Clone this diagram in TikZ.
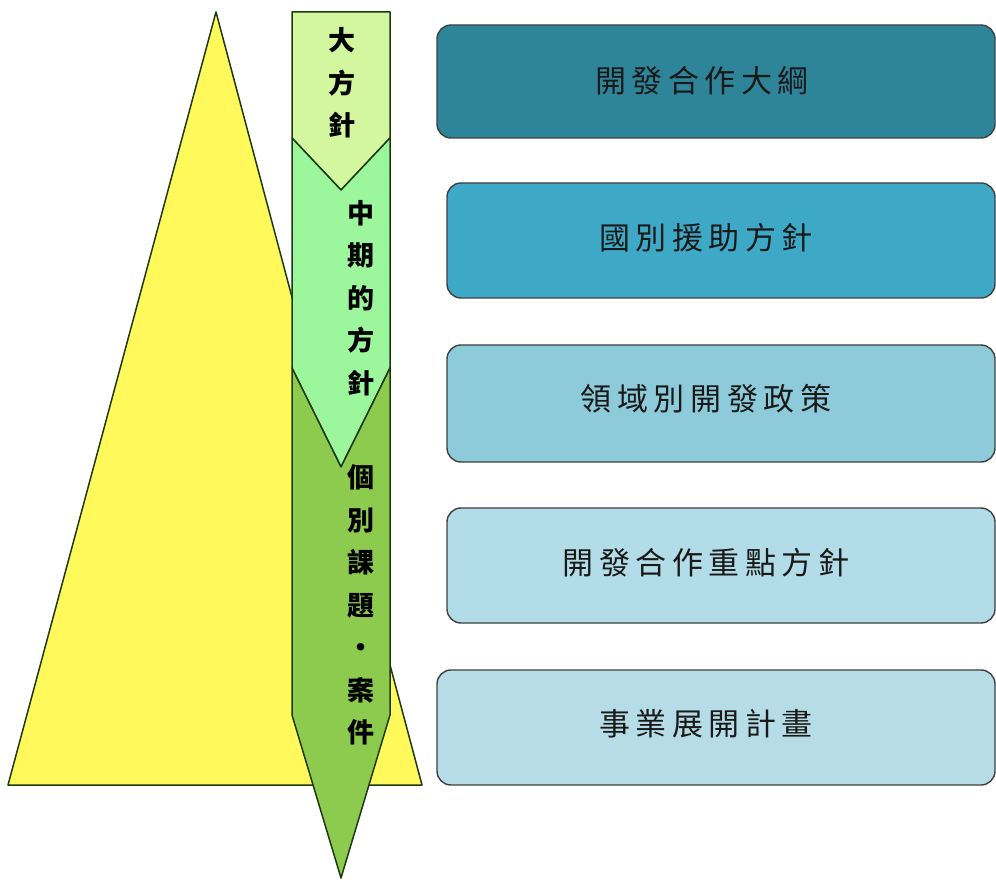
\documentclass[tikz,border=0pt]{standalone}
\usepackage{fontspec}
\newfontfamily\cjk{Noto Sans CJK TC}
\newfontfamily\cjkwide[LetterSpace=18]{Noto Sans CJK TC}
\definecolor{pyr}{HTML}{FFF95C}
\definecolor{s1}{HTML}{D2F79E}
\definecolor{s2}{HTML}{9CF79C}
\definecolor{s3}{HTML}{8CCB4E}
\definecolor{edge}{HTML}{1E3A14}
\definecolor{b1}{HTML}{2E8599}
\definecolor{b2}{HTML}{3EA9C6}
\definecolor{b3}{HTML}{8DCBDA}
\definecolor{b4}{HTML}{B2DCE7}
\definecolor{b5}{HTML}{B6DCE7}
\begin{document}
\begin{tikzpicture}[x=1pt,y=-1pt,
  outl/.style={draw=edge, line width=1.5pt, line join=round},
  box/.style={draw=black!75, line width=1.4pt, rounded corners=14pt},
  boxtext/.style={font=\cjkwide\fontsize{31}{36}\selectfont, text=black!90},
  coltext/.style={font=\cjk\bfseries\fontsize{27}{42.5}\selectfont, align=center, text=black, inner sep=0pt}]
\useasboundingbox (0,0) rectangle (996,882);
\fill[white] (0,0) rectangle (996,882);
% pyramid
\filldraw[fill=pyr, outl] (216,12) -- (422,785) -- (8,785) -- cycle;
% column segments
\filldraw[fill=s1, outl]
  (292,12) -- (390,12) -- (390,138) -- (341,190) -- (292,138) -- cycle;
\filldraw[fill=s2, outl]
  (292,138) -- (341,190) -- (390,138) -- (390,368) -- (341,467) -- (292,368) -- cycle;
\filldraw[fill=s3, outl]
  (292,368) -- (341,467) -- (390,368) -- (390,715) -- (341,878) -- (292,715) -- cycle;
% column texts
\node[coltext] (t1) at (342,83) {大\\方\\針};
\node[coltext] (t2) at (361,298) {中\\期\\的\\方\\針};
\node[coltext] (t3) at (361,605) {個\\別\\課\\題\\・\\案\\件};
% boxes
\filldraw[box, fill=b1] (437,25) rectangle (995,138);
\filldraw[box, fill=b2] (447,183) rectangle (995,298);
\filldraw[box, fill=b3] (447,345) rectangle (995,462);
\filldraw[box, fill=b4] (447,508) rectangle (995,623);
\filldraw[box, fill=b5] (437,670) rectangle (995,785);
\node[boxtext] (l1) at (702,81) {開發合作大綱};
\node[boxtext] (l2) at (706,238) {國別援助方針};
\node[boxtext] (l3) at (706,399) {領域別開發政策};
\node[boxtext] (l4) at (706,563) {開發合作重點方針};
\node[boxtext] (l5) at (706,724) {事業展開計畫};
\end{tikzpicture}
\end{document}
